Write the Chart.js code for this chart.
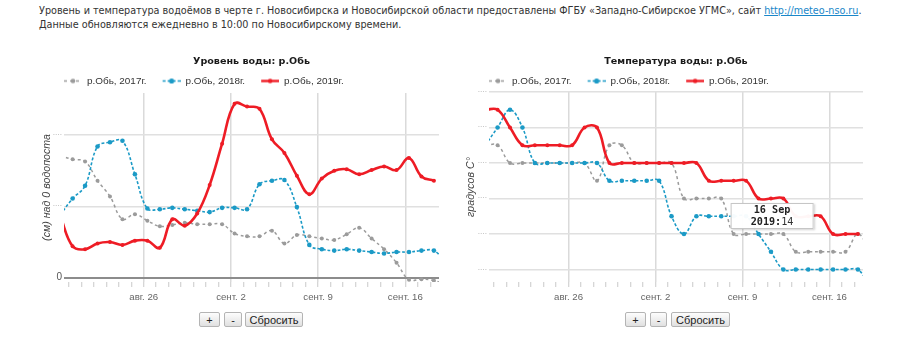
<!DOCTYPE html>
<html><head><meta charset="utf-8">
<script src="https://cdn.jsdelivr.net/npm/chart.js@4.4.1/dist/chart.umd.min.js"></script>
<style>
html,body{margin:0;padding:0;background:#fff;width:900px;height:342px;overflow:hidden;position:relative}
#hdr{position:absolute;left:39px;top:3.5px;font-family:"DejaVu Sans";color:#333;line-height:14.2px;white-space:nowrap}
#hdr a{color:#1a87c9;text-decoration:underline}
canvas{position:absolute;top:0}
#c1{left:0}#c2{left:450px}
.btn{position:absolute;top:312px;height:15px;box-sizing:border-box;border:1px solid #b4b4b4;border-radius:2px;background:linear-gradient(#fdfdfd,#e0e0e0);font:11px "Liberation Sans";color:#222;display:flex;align-items:center;justify-content:center}
#tip{position:absolute;display:none;transform:translate(-50%,-50%);background:rgba(255,255,255,0.96);border:1px solid #c6c6c6;box-shadow:1px 1px 2px rgba(0,0,0,0.18);font-family:"DejaVu Sans Mono";line-height:12px;padding:0 19px;text-align:center;color:#222;white-space:nowrap;z-index:5}
#tip span{font-weight:normal;color:#333}
</style></head><body>
<div id="hdr"><div id="h1">Уровень и температура водоёмов в черте г. Новосибирска и Новосибирской области предоставлены ФГБУ «Западно-Сибирское УГМС», сайт <a>http://meteo-nso.ru</a>.</div><div id="h2">Данные обновляются ежедневно в 10:00 по Новосибирскому времени.</div></div>
<canvas id="c1" width="450" height="310"></canvas>
<canvas id="c2" width="450" height="310"></canvas>
<div class="btn" style="left:199px;width:21px">+</div>
<div class="btn" style="left:224px;width:18px">-</div>
<div class="btn" style="left:245px;width:58px">Сбросить</div>
<div class="btn" style="left:625px;width:21px">+</div>
<div class="btn" style="left:650px;width:17px">-</div>
<div class="btn" style="left:671px;width:59px">Сбросить</div>
<div id="tip"></div>
<script>
// ---------- data ----------
const dates = ['2019-08-19','2019-08-20','2019-08-21','2019-08-22','2019-08-23','2019-08-24','2019-08-25',
  '2019-08-26','2019-08-27','2019-08-28','2019-08-29','2019-08-30','2019-08-31','2019-09-01','2019-09-02',
  '2019-09-03','2019-09-04','2019-09-05','2019-09-06','2019-09-07','2019-09-08','2019-09-09','2019-09-10',
  '2019-09-11','2019-09-12','2019-09-13','2019-09-14','2019-09-15','2019-09-16','2019-09-17','2019-09-18','2019-09-19'];
const obsTime = '07:00';
const level2017 = [171,166,163,136,114,82,89,80,72,74,77,75,75,75,62,58,58,66,48,60,58,55,53,61,70,55,40,21,-3,-2,-4,-10];
const level2018 = [88,111,129,184,190,192,145,97,96,98,96,94,92,98,98,96,131,136,137,99,46,40,38,40,38,36,34,36,36,38,38,20];
const level2019 = [87,44,40,48,50,46,52,52,42,82,73,90,130,188,244,240,237,194,175,143,117,139,150,152,145,151,156,151,168,142,136,null];
const temp2017 = [19,19,18,18,18,18,18,18,18,17,19,19,18,18,18,18,16,16,16,16,14,14,14,14,14,13,13,13,13,13,14,13];
const temp2018 = [19,20,21,20,18,18,18,18,18,18,17,17,17,17,17,15,14,15,15,15,15,15,14,13,12,12,12,12,12,12,12,11];
const temp2019 = [21,21,20,19,19,19,19,19,20,20,18,18,18,18,18,18,18,18,17,17,17,17,16,16,16,15,15,15,14,14,14,null];
const seriesNames = ['р.Обь, 2017г.','р.Обь, 2018г.','р.Обь, 2019г.'];
const seriesYears = [2017, 2018, 2019];
const weekTickDates = ['2019-08-26','2019-09-02','2019-09-09','2019-09-16'];
const weekTickLabels = ['авг. 26','сент. 2','сент. 9','сент. 16'];
const levelTicks = [0, 100, 200];
const levelTickLabels = ['0', '····', '····'];
const tempTicks = [12, 14, 16, 18, 20, 22];
const tempTickLabels = ['····','····','····','····','····','····'];
const viewStart = '2019-08-19T14:24';
const viewEnd = '2019-09-18T16:48';
const levelRange = [-6, 259];
const tempRange = [11.3, 22];
const tooltipDate = '2019-09-16';
const monthsEn = ['Jan','Feb','Mar','Apr','May','Jun','Jul','Aug','Sep','Oct','Nov','Dec'];

// ---------- helpers ----------
const DAY = 86400000;
const refDate = Date.UTC(2019, 7, 26);
function dayPos(s) {
  const [d, t] = s.split('T');
  const [Y, M, D] = d.split('-').map(Number);
  let h = 0, m = 0;
  if (t) [h, m] = t.split(':').map(Number);
  return (Date.UTC(Y, M - 1, D, h, m) - refDate) / DAY;
}
const xs = dates.map(d => dayPos(d + 'T' + obsTime));
const majorPos = weekTickDates.map(d => dayPos(d));
const mctx = document.createElement('canvas').getContext('2d');
function textW(text, font) { mctx.font = font; return mctx.measureText(text).width; }
function fit(text, tpl, target) { return 100 * target / textW(text, tpl.replace('%', '100px')); }

const FS_TITLE = fit('Уровень воды: р.Обь', 'bold % "DejaVu Sans"', 117);
const FS_LEG = fit(seriesNames[0], '% "Liberation Sans"', 59.7);
const FS_TICK = fit(weekTickLabels[0], '% "Liberation Sans"', 29);
const FS_YT = fit('(см) над 0 водопоста', 'italic % "Liberation Sans"', 107);
const FS_TIP = fit('16 Sep', 'bold % "DejaVu Sans Mono"', 36.7);
const FS_HDR = fit(document.getElementById('h1').textContent, '% "DejaVu Sans"', 824);
document.getElementById('hdr').style.fontSize = FS_HDR + 'px';
document.getElementById('tip').style.fontSize = FS_TIP + 'px';

const LEG_PAD = 6;
const legTextW = textW(seriesNames[0], FS_LEG + 'px "Liberation Sans"');
const LEG_MARGIN = Math.max(0, Math.round(98.4 - FS_LEG / 2 - legTextW - LEG_PAD - 18));

function legendSymbol(color, dash, lw, r) {
  const w = LEG_MARGIN + 18, h = 9;
  const c = document.createElement('canvas'); c.width = w; c.height = h;
  const g = c.getContext('2d');
  g.strokeStyle = color; g.lineWidth = lw; g.setLineDash(dash);
  g.beginPath(); g.moveTo(LEG_MARGIN, h / 2); g.lineTo(w, h / 2); g.stroke();
  g.setLineDash([]); g.fillStyle = color;
  g.beginPath(); g.arc(LEG_MARGIN + 9, h / 2, r, 0, Math.PI * 2); g.fill();
  return c;
}
const styles = [
  {color: '#9b9b9b', dash: [3, 3], width: 1.5, radius: 2, order: 3},
  {color: '#1b9ac6', dash: [3, 2], width: 1.6, radius: 2.3, order: 2},
  {color: '#ee1c25', dash: [], width: 2.6, radius: 2, order: 1}
];
const legendImgs = styles.map(s => legendSymbol(s.color, s.dash, s.width === 2.6 ? 2.4 : 1.5, s.radius + 0.3));

function tipTitle(d) { const [Y, M, D] = d.split('-').map(Number); return D + ' ' + monthsEn[M - 1]; }
function externalTip(ctx) {
  const {chart, tooltip} = ctx;
  const el = document.getElementById('tip');
  if (tooltip.opacity === 0 || !tooltip.dataPoints || !tooltip.dataPoints.length) { el.style.display = 'none'; return; }
  const dp = tooltip.dataPoints[0];
  el.innerHTML = '<b>' + tipTitle(dates[dp.dataIndex]) + '</b><br><b>' + seriesYears[dp.datasetIndex] + ':</b><span>' + dp.parsed.y + '</span>';
  el.style.left = (chart.canvas.offsetLeft + tooltip.caretX - 61) + 'px';
  el.style.top = (chart.canvas.offsetTop + tooltip.caretY - 18) + 'px';
  el.style.display = 'block';
}

function makeChart(canvasId, cfg) {
  const lhY = FS_YT * 1.2;
  const padL = cfg.yTitleX - lhY / 2;
  const titleH = FS_TITLE * 1.2;
  const legendH = FS_LEG + LEG_PAD + 10;
  const padT = cfg.caTop - titleH - legendH;
  const placer = {
    id: 'placer',
    afterLayout(chart) {
      const ca = chart.chartArea;
      const L = chart.legend;
      if (L) {
        const h = L.bottom - L.top;
        L.left = ca.left - LEG_PAD - LEG_MARGIN;
        L.top = cfg.legendY - LEG_PAD - FS_LEG / 2;
        L.bottom = L.top + h;
      }
      const T = chart.titleBlock;
      if (T) {
        const h = T.bottom - T.top;
        T.top = cfg.titleY - titleH / 2;
        T.bottom = T.top + h;
      }
    }
  };
  const datasets = cfg.series.map((vals, i) => ({
    label: seriesNames[i],
    data: vals.map((v, j) => ({x: xs[j], y: v})),
    borderColor: styles[i].color,
    backgroundColor: styles[i].color,
    borderWidth: styles[i].width,
    borderDash: styles[i].dash,
    pointRadius: styles[i].radius,
    pointBorderWidth: 0,
    pointHoverRadius: styles[i].radius,
    tension: 0.4,
    order: styles[i].order,
    spanGaps: false
  }));
  return new Chart(document.getElementById(canvasId), {
    type: 'line',
    data: {datasets},
    plugins: [placer],
    options: {
      responsive: false, animation: false, devicePixelRatio: 1, events: [],
      layout: {padding: {left: padL, right: cfg.padR, top: padT, bottom: 0}},
      elements: {line: {capBezierPoints: false}},
      plugins: {
        title: {display: true, text: cfg.title, fullSize: false, color: '#1a1a1a',
          font: {family: 'DejaVu Sans', weight: 'bold', size: FS_TITLE}, padding: {top: 0, bottom: 0}},
        legend: {display: true, fullSize: false, align: 'start',
          labels: {usePointStyle: true, pointStyleWidth: LEG_MARGIN + 18, padding: LEG_PAD, color: '#333',
            font: {family: 'Liberation Sans', size: FS_LEG},
            generateLabels: chart => chart.data.datasets.map((ds, i) => ({
              text: ds.label, pointStyle: legendImgs[i], fillStyle: 'rgba(0,0,0,0)', strokeStyle: 'rgba(0,0,0,0)',
              lineWidth: 0, fontColor: '#333', hidden: false, datasetIndex: i}))}},
        tooltip: {enabled: false, external: externalTip}
      },
      scales: {
        x: {
          type: 'linear', min: dayPos(viewStart), max: dayPos(viewEnd),
          afterBuildTicks: s => { const t = []; for (let d = Math.ceil(s.min); d <= Math.floor(s.max); d++) t.push({value: d}); s.ticks = t; },
          afterFit: s => { s.height = 310 - 282; },
          border: {display: false},
          grid: {color: c => (c.tick && majorPos.includes(c.tick.value)) ? '#dadada' : 'rgba(0,0,0,0)',
            lineWidth: 1.5, tickLength: 5, tickColor: '#c9c9c9', tickWidth: 1},
          ticks: {autoSkip: false, maxRotation: 0, minRotation: 0, padding: 4.5, color: '#666',
            font: {family: 'Liberation Sans', size: FS_TICK},
            callback: v => { const k = majorPos.indexOf(v); return k >= 0 ? weekTickLabels[k] : ''; }}
        },
        y: {
          min: cfg.yRange[0], max: cfg.yRange[1],
          afterBuildTicks: s => { s.ticks = cfg.yTicks.map(v => ({value: v})); },
          afterFit: s => { s.width = cfg.caLeft - padL; },
          border: {display: false},
          grid: {drawTicks: false,
            color: c => (cfg.zeroLine && c.tick && c.tick.value === 0) ? '#8c8c8c' : '#e0e0e0',
            lineWidth: c => (cfg.zeroLine && c.tick && c.tick.value === 0) ? 2 : 1.5},
          ticks: {padding: 2,
            color: c => (c.tick && c.tick.value === 0) ? '#555' : '#b0b0b0',
            font: c => (c.tick && c.tick.value === 0) ? {family: 'Liberation Sans', size: 10} : {family: 'Liberation Sans', size: 7},
            callback: v => cfg.yLabels[cfg.yTicks.indexOf(v)]},
          title: {display: true, text: cfg.yTitle, color: '#444', padding: {top: 0, bottom: 0},
            font: {family: 'Liberation Sans', style: 'italic', size: FS_YT}}
        }
      }
    }
  });
}

const chart1 = makeChart('c1', {
  title: 'Уровень воды: р.Обь', series: [level2017, level2018, level2019],
  yRange: levelRange, yTicks: levelTicks, yLabels: levelTickLabels, zeroLine: true,
  yTitle: '(см) над 0 водопоста', yTitleX: 47, caLeft: 64, padR: 11, caTop: 93, titleY: 62, legendY: 81
});
const chart2 = makeChart('c2', {
  title: 'Температура воды: р.Обь', series: [temp2017, temp2018, temp2019],
  yRange: tempRange, yTicks: tempTicks, yLabels: tempTickLabels, zeroLine: false,
  yTitle: 'градусов С°', yTitleX: 21, caLeft: 39, padR: 37, caTop: 92, titleY: 62, legendY: 81
});
const tipIdx = dates.indexOf(tooltipDate);
const tipEl = chart2.getDatasetMeta(2).data[tipIdx];
chart2.tooltip.setActiveElements([{datasetIndex: 2, index: tipIdx}], {x: tipEl.x, y: tipEl.y});
chart2.update();
</script>
</body></html>
